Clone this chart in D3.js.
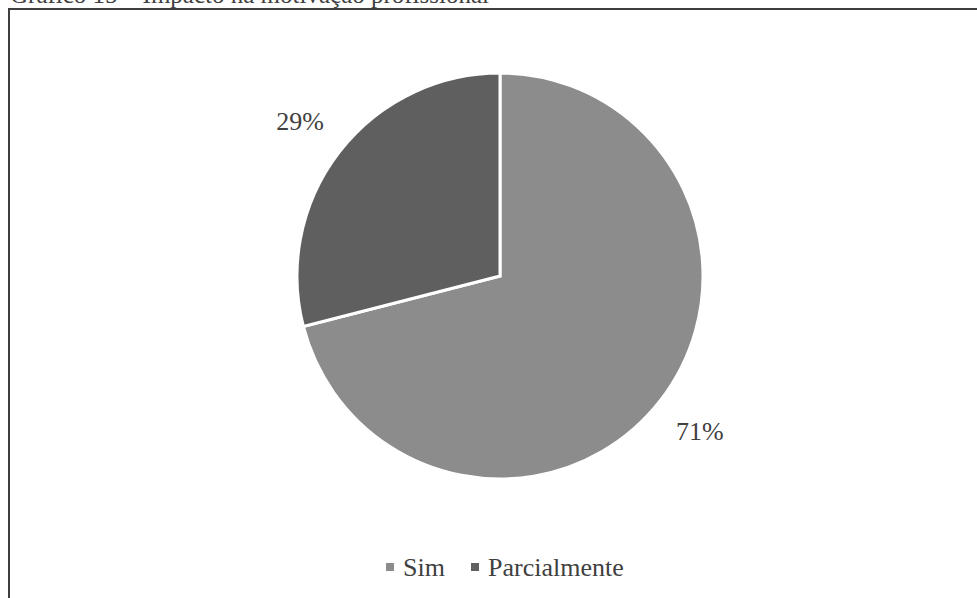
<!DOCTYPE html>
<html>
<head>
<meta charset="utf-8">
<script src="https://cdn.jsdelivr.net/npm/d3@7"></script>
<style>
  body { margin: 0; background: #fff; }
  text { font-family: "Liberation Serif", "Times New Roman", serif; fill: #404040; }
</style>
</head>
<body>
<div id="piechart"></div>
<script>
// chart data
var categories = ["Sim", "Parcialmente"];
var values = [71, 29];
var labels = ["71%", "29%"];
var colors = ["#8c8c8c", "#5f5f5f"];
var title = "Gráfico 15 – Impacto na motivação profissional";

var width = 977,
    height = 598,
    radius = 203,
    labelRadius = 253;

var svg = d3.select("#piechart").append("svg")
    .attr("width", width)
    .attr("height", height);

// title, mostly cut off at the top of the page
svg.append("text")
    .attr("x", 10)
    .attr("y", 3)
    .style("font-size", "25px")
    .text(title);

// chart frame (right and bottom edges run off the page)
svg.append("rect")
    .attr("x", 9)
    .attr("y", 9)
    .attr("width", 975)
    .attr("height", 600)
    .style("fill", "none")
    .style("stroke", "#3f3f3f")
    .style("stroke-width", 2);

var color = d3.scaleOrdinal()
    .domain(categories)
    .range(colors);

var pie = d3.pie()
    .sort(null)
    .value(function(d) { return d.value; });

var data = categories.map(function(c, i) {
    return {name: c, value: values[i], label: labels[i]};
});

var arc = d3.arc()
    .innerRadius(0)
    .outerRadius(radius);

var labelArc = d3.arc()
    .innerRadius(labelRadius)
    .outerRadius(labelRadius);

var g = svg.append("g")
    .attr("transform", "translate(500,276)");

g.selectAll(".slice")
    .data(pie(data))
    .enter().append("path")
    .attr("class", "slice")
    .attr("d", arc)
    .style("fill", function(d) { return color(d.data.name); })
    .style("stroke", "#fff")
    .style("stroke-width", 3)
    .style("stroke-linejoin", "miter");

// percentage labels outside the pie
g.selectAll(".pct")
    .data(pie(data))
    .enter().append("text")
    .attr("class", "pct")
    .attr("transform", function(d) { return "translate(" + labelArc.centroid(d) + ")"; })
    .attr("text-anchor", "middle")
    .attr("dy", "0.35em")
    .style("font-size", "26px")
    .text(function(d) { return d.data.label; });

// legend
var legendX = [386, 471];
var legend = svg.selectAll(".legend")
    .data(data)
    .enter().append("g")
    .attr("class", "legend")
    .attr("transform", function(d, i) { return "translate(" + legendX[i] + ",563)"; });

legend.append("rect")
    .attr("width", 8)
    .attr("height", 8)
    .style("fill", function(d) { return color(d.name); });

legend.append("text")
    .attr("x", 17)
    .attr("y", 13)
    .style("font-size", "26px")
    .text(function(d) { return d.name; });
</script>
</body>
</html>
